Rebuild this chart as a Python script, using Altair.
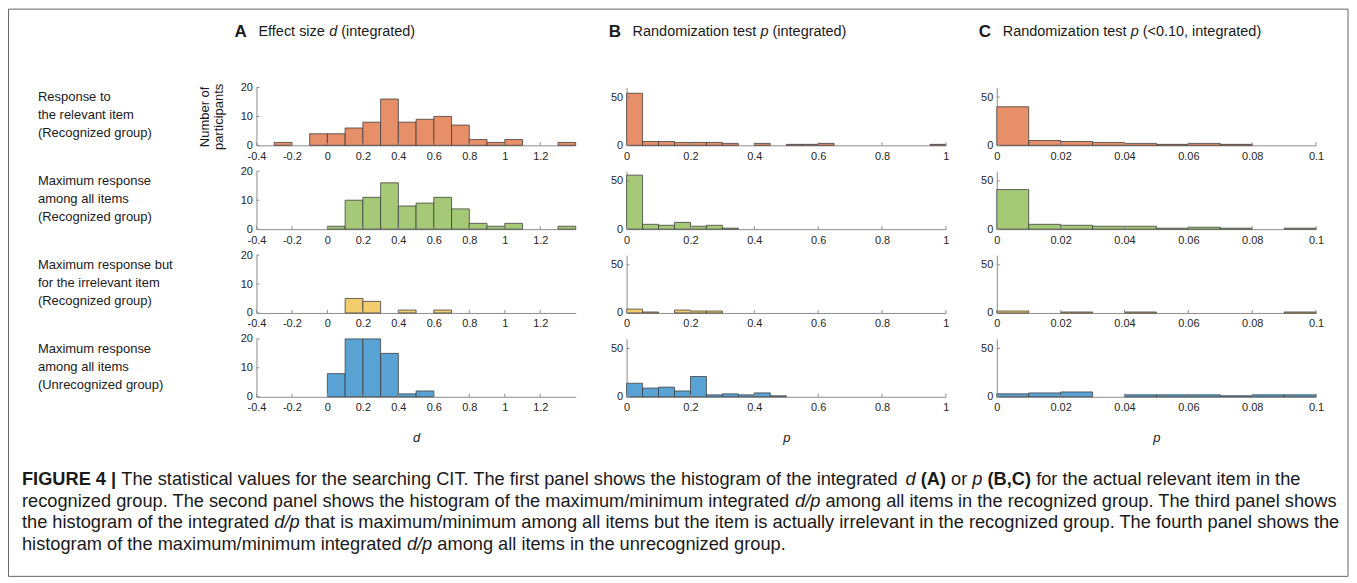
import altair as alt
import pandas as pd

# ---------------- data ----------------
row_labels = [
    ["Response to", "the relevant item", "(Recognized group)"],
    ["Maximum response", "among all items", "(Recognized group)"],
    ["Maximum response but", "for the irrelevant item", "(Recognized group)"],
    ["Maximum response", "among all items", "(Unrecognized group)"],
]

# column A: effect size d, bins of width 0.1
d_bin_lo = [-0.4, -0.3, -0.2, -0.1, 0.0, 0.1, 0.2, 0.3, 0.4, 0.5, 0.6, 0.7, 0.8, 0.9, 1.0, 1.1, 1.2, 1.3]
d_relevant = [0, 1, 0, 4, 4, 6, 8, 16, 8, 9, 10, 7, 2, 1, 2, 0, 0, 1]
d_max_all = [0, 0, 0, 0, 1, 10, 11, 16, 8, 9, 11, 7, 2, 1, 2, 0, 0, 1]
d_max_irrel = [0, 0, 0, 0, 0, 5, 4, 0, 1, 0, 1, 0, 0, 0, 0, 0, 0, 0]
d_max_unrec = [0, 0, 0, 0, 8, 20, 20, 15, 1, 2, 0, 0, 0, 0, 0, 0, 0, 0]
d_bin_width = 0.1

# column B: randomization p, bins of width 0.05
p_bin_lo = [0.0, 0.05, 0.1, 0.15, 0.2, 0.25, 0.3, 0.35, 0.4, 0.45,
            0.5, 0.55, 0.6, 0.65, 0.7, 0.75, 0.8, 0.85, 0.9, 0.95]
p_relevant = [54, 4, 4, 3, 3, 3, 2, 0, 2, 0, 1, 1, 2, 0, 0, 0, 0, 0, 0, 1]
p_max_all = [56, 5, 4, 7, 3, 4, 1, 0, 0, 0, 0, 0, 0, 0, 0, 0, 0, 0, 0, 0]
p_max_irrel = [4, 1, 0, 3, 2, 2, 0, 0, 0, 0, 0, 0, 0, 0, 0, 0, 0, 0, 0, 0]
p_max_unrec = [14, 9, 10, 6, 21, 2, 3, 2, 4, 1, 0, 0, 0, 0, 0, 0, 0, 0, 0, 0]
p_bin_width = 0.05

# column C: randomization p < 0.10, bins of width 0.01
p10_bin_lo = [0.0, 0.01, 0.02, 0.03, 0.04, 0.05, 0.06, 0.07, 0.08, 0.09]
p10_relevant = [40, 5, 4, 3, 2, 1, 2, 1, 0, 0]
p10_max_all = [41, 5, 4, 3, 3, 1, 2, 1, 0, 1]
p10_max_irrel = [2, 0, 1, 0, 1, 0, 0, 0, 0, 1]
p10_max_unrec = [3, 4, 5, 0, 2, 2, 2, 1, 2, 2]
p10_bin_width = 0.01

d_xticks = [-0.4, -0.2, 0, 0.2, 0.4, 0.6, 0.8, 1, 1.2]
p_xticks = [0, 0.2, 0.4, 0.6, 0.8, 1]
p10_xticks = [0, 0.02, 0.04, 0.06, 0.08, 0.1]
d_yticks = [0, 10, 20]
p_yticks = [0, 50]

row_colors = ["#E68F69", "#A6C978", "#F3CC6E", "#59A3D4"]

header_letters = ["A", "B", "C"]
header_texts = [
    [("Effect size ", "r"), ("d", "i"), (" (integrated)", "r")],
    [("Randomization test ", "r"), ("p", "i"), (" (integrated)", "r")],
    [("Randomization test ", "r"), ("p", "i"), (" (<0.10, integrated)", "r")],
]
x_titles = ["d", "p", "p"]
y_title = ["Number of", "participants"]

caption_lines = [
    [("FIGURE 4 |", "b"),
     (" The statistical values for the searching CIT. The first panel shows the histogram of the integrated ", "r"),
     ("d", "i"), (" ", "r"), ("(A)", "b"), (" or ", "r"), ("p", "i"), (" ", "r"), ("(B,C)", "b"),
     (" for the actual relevant item in the", "r")],
    [("recognized group. The second panel shows the histogram of the maximum/minimum integrated ", "r"),
     ("d/p", "i"), (" among all items in the recognized group. The third panel shows", "r")],
    [("the histogram of the integrated ", "r"), ("d/p", "i"),
     (" that is maximum/minimum among all items but the item is actually irrelevant in the recognized group. The fourth panel shows the", "r")],
    [("histogram of the maximum/minimum integrated ", "r"), ("d/p", "i"),
     (" among all items in the unrecognized group.", "r")],
]

# ---------------- styling / layout ----------------
FONT = "Liberation Sans, Arial, Helvetica, sans-serif"
TXT = "#1a1a1a"
AX = "#8c8c8c"
EDGE = "#3a3a3a"
PW, PH = 320, 58          # panel plot size
LABEL_W = 198
COL_GAP = 51
ROW_GAP = 26
HEADER_H = 53
FIG_W, FIG_H = 1343, 569

# Arial / Liberation Sans advance widths (per 1000 em) for text layout
_reg = {' ': 278, '(': 333, ')': 333, ',': 278, '-': 333, '.': 278, '/': 278, ':': 278, '<': 584, '|': 260}
_bold = {' ': 278, '(': 333, ')': 333, ',': 278, '-': 333, '.': 278, '/': 278, ':': 278, '<': 584, '|': 280}
for c in "0123456789":
    _reg[c] = 556
    _bold[c] = 556
for c, w in zip("ABCDEFGHIJKLMNOPQRSTUVWXYZ",
                [667, 667, 722, 722, 667, 611, 778, 722, 278, 500, 667, 556, 833, 722, 778, 667, 778, 722, 667, 611, 722, 667, 944, 667, 667, 611]):
    _reg[c] = w
for c, w in zip("abcdefghijklmnopqrstuvwxyz",
                [556, 556, 500, 556, 556, 278, 556, 556, 222, 222, 500, 222, 833, 556, 556, 556, 556, 333, 500, 278, 556, 500, 722, 500, 500, 500]):
    _reg[c] = w
for c, w in zip("ABCDEFGHIJKLMNOPQRSTUVWXYZ",
                [722, 722, 722, 722, 667, 611, 778, 722, 278, 556, 722, 611, 833, 722, 778, 667, 778, 722, 667, 611, 722, 667, 944, 667, 667, 611]):
    _bold[c] = w
for c, w in zip("abcdefghijklmnopqrstuvwxyz",
                [556, 611, 556, 611, 556, 333, 611, 611, 278, 278, 556, 278, 889, 611, 611, 611, 611, 389, 556, 333, 611, 556, 778, 556, 556, 500]):
    _bold[c] = w


def text_width(s, size, bold=False):
    tab = _bold if bold else _reg
    return sum(tab.get(c, 556) for c in s) * size / 1000.0


def layout_segments(segs, x0, y, size):
    out = []
    x = x0
    for s, st in segs:
        lead = len(s) - len(s.lstrip(" "))
        out.append(dict(x=x + text_width(" " * lead, size), y=y, text=s.strip(),
                        style=st, size=size))
        x += text_width(s, size, st == "b")
    return out


texts = []
# column headers
letter_x = [227, 602, 973]
for lx, letter, segs in zip(letter_x, header_letters, header_texts):
    texts.append(dict(x=lx, y=23.5, text=letter, style="b", size=17))
    texts += layout_segments(segs, lx + 24, 23.5, 14.5)

# caption: font size chosen so that the 2nd line spans the figure width
em2 = sum(text_width(s, 1.0, st == "b") for s, st in caption_lines[1])
cap_size = round(1318 / em2, 2)
for i, segs in enumerate(caption_lines):
    texts += layout_segments(segs, 14, 472 + 22 * i, cap_size)
tdf = pd.DataFrame(texts)


def text_layer(style, **kw):
    return alt.Chart(tdf).transform_filter(f"datum.style == '{style}'").mark_text(
        align="left", baseline="middle", color=TXT, font=FONT, **kw
    ).encode(
        x=alt.X("x:Q", scale=None),
        y=alt.Y("y:Q", scale=None),
        text="text:N",
        size=alt.Size("size:Q", scale=None, legend=None),
    )


one = pd.DataFrame({"k": [0]})
border = alt.Chart(one).mark_rect(filled=False, stroke="#666666", strokeWidth=1).encode(
    x=alt.value(0.5), x2=alt.value(FIG_W), y=alt.value(0.5), y2=alt.value(FIG_H)
)
# first grid cell: figure border, column headers and caption (figure coordinates)
header = alt.layer(
    border,
    text_layer("r"),
    text_layer("i", fontStyle="italic"),
    text_layer("b", fontWeight="bold"),
).properties(width=LABEL_W, height=HEADER_H)


def blank(w, h):
    return alt.Chart(one).mark_text(text="").encode(
        x=alt.value(w / 2), y=alt.value(h / 2)).properties(width=w, height=h)


def panel(lo, counts, bw, xdom, xt, ydom, yt, color, xtitle=None, ytitle=None):
    df = pd.DataFrame({"lo": lo, "count": counts})
    df["hi"] = df["lo"] + bw
    xs = alt.Scale(domain=xdom, nice=False, zero=False)
    ys = alt.Scale(domain=ydom, nice=False)
    xkw = dict(values=xt, labelExpr="'' + datum.value", ticks=False, grid=False,
               labelPadding=5, labelFlush=False, labelOverlap=False)
    if xtitle is not None:
        xaxis = alt.Axis(title=xtitle, titleFontStyle="italic", titleFontWeight="normal",
                         titleFontSize=13, titlePadding=19, titleColor=TXT, **xkw)
    else:
        xaxis = alt.Axis(title=None, **xkw)
    ykw = dict(values=yt, ticks=False, grid=False, labelPadding=4, labelOverlap=False,
               labelFlush=False)
    if ytitle is not None:
        yaxis = alt.Axis(title=ytitle, titleAngle=270, titleAlign="center",
                         titleBaseline="bottom", titleX=-45, titleY=PH / 2,
                         titleFontSize=13, titleFontWeight="normal", titleLineHeight=13.5,
                         titleColor=TXT, **ykw)
    else:
        yaxis = alt.Axis(title=None, **ykw)

    bars = alt.Chart(df).transform_filter("datum.count > 0").mark_rect(
        fill=color, stroke=EDGE, strokeWidth=0.9, strokeOpacity=0.85
    ).encode(
        x=alt.X("lo:Q", scale=xs, axis=xaxis),
        x2="hi:Q",
        y=alt.Y("count:Q", scale=ys, axis=yaxis),
        y2=alt.datum(0),
    )
    xtick = alt.Chart(pd.DataFrame({"v": xt})).mark_rule(color=AX, strokeWidth=1).encode(
        x=alt.X("v:Q", scale=xs, axis=xaxis), y=alt.value(PH), y2=alt.value(PH - 3)
    )
    ytick = alt.Chart(pd.DataFrame({"w": yt})).mark_rule(color=AX, strokeWidth=1).encode(
        y=alt.Y("w:Q", scale=ys, axis=yaxis), x=alt.value(0), x2=alt.value(3)
    )
    return alt.layer(bars, xtick, ytick).properties(width=PW, height=PH)


col_d = [d_relevant, d_max_all, d_max_irrel, d_max_unrec]
col_p = [p_relevant, p_max_all, p_max_irrel, p_max_unrec]
col_p10 = [p10_relevant, p10_max_all, p10_max_irrel, p10_max_unrec]

cells = [header, blank(PW, HEADER_H), blank(PW, HEADER_H), blank(PW, HEADER_H)]
for i in range(4):
    last = i == 3
    label = alt.Chart(one).mark_text(
        text=row_labels[i], align="left", baseline="middle", fontSize=13, lineHeight=18,
        color=TXT, font=FONT
    ).encode(x=alt.value(30), y=alt.value(10)).properties(width=LABEL_W, height=PH)
    pa = panel(d_bin_lo, col_d[i], d_bin_width, [-0.4, 1.4], d_xticks, [0, 20], d_yticks,
               row_colors[i], xtitle=x_titles[0] if last else None,
               ytitle=y_title if i == 0 else None)
    pb = panel(p_bin_lo, col_p[i], p_bin_width, [0, 1], p_xticks, [0, 60], p_yticks,
               row_colors[i], xtitle=x_titles[1] if last else None)
    pc = panel(p10_bin_lo, col_p10[i], p10_bin_width, [0, 0.1], p10_xticks, [0, 60], p_yticks,
               row_colors[i], xtitle=x_titles[2] if last else None)
    cells += [label, pa, pb, pc]

chart = alt.concat(
    *cells, columns=4, spacing={"row": ROW_GAP, "column": COL_GAP}, bounds="flush"
).properties(
    padding=0
).configure(font=FONT).configure_view(strokeWidth=0).configure_axis(
    domainColor=AX, domainWidth=1, labelColor="#262626", labelFontSize=11, labelFont=FONT
)

chart.save("out.html", embed_options={"renderer": "svg", "actions": False})
